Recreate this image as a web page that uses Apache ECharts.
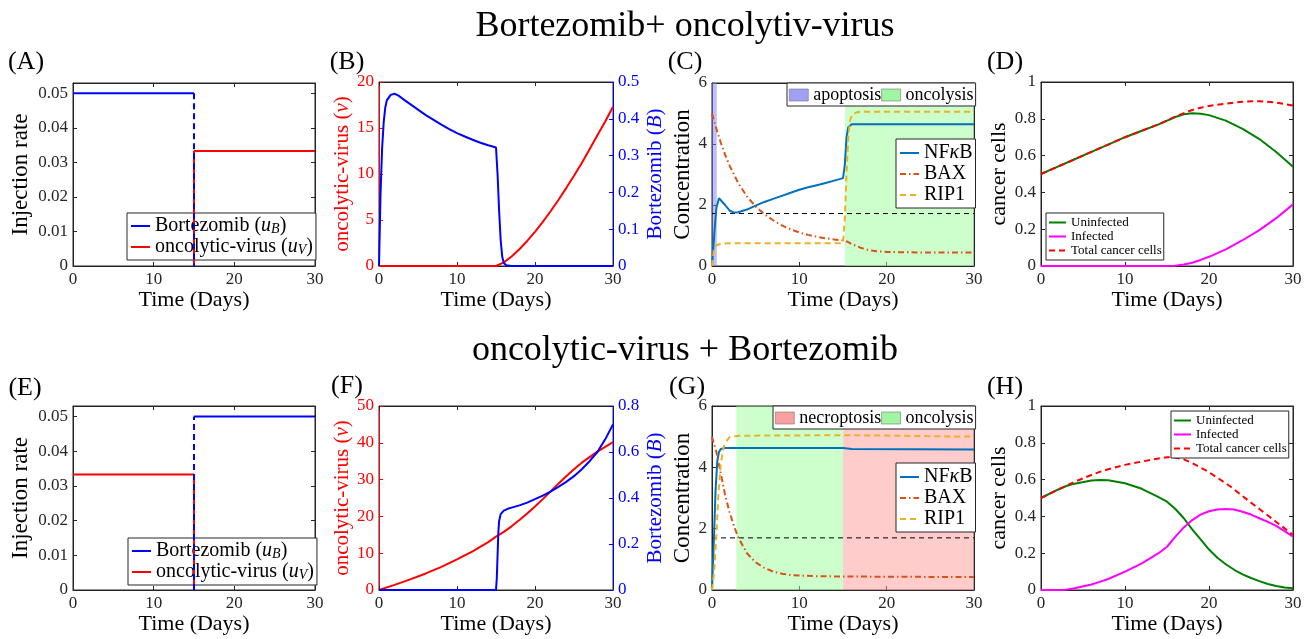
<!DOCTYPE html>
<html><head><meta charset="utf-8">
<script src="https://cdn.jsdelivr.net/npm/echarts@6/dist/echarts.min.js"></script>
<style>html,body{margin:0;padding:0;background:#fff}#c{width:1314px;height:639px}</style>
</head><body><div id="c"></div>
<script>
// ---------------- DATA ----------------
const titleTop = 'Bortezomib+ oncolytiv-virus';
const titleBottom = 'oncolytic-virus + Bortezomib';
const panelLabels = ['(A)','(B)','(C)','(D)','(E)','(F)','(G)','(H)'];

// Panel A: injection rates
const tA_B = [0, 15];        const uA_B = [0.05, 0.05];
const tA_Bdrop = [15, 15];   const uA_Bdrop = [0.05, 0];
const tA_V = [15, 30];       const uA_V = [0.0333, 0.0333];
const tA_Vrise = [15, 15];   const uA_Vrise = [0, 0.0333];

// Panel E: injection rates
const tE_V = [0, 15];        const uE_V = [0.0333, 0.0333];
const tE_Vdrop = [15, 15];   const uE_Vdrop = [0.0333, 0];
const tE_Brise = [15, 15];   const uE_Brise = [0, 0.05];
const tE_B = [15, 30];       const uE_B = [0.05, 0.05];

// Panel B
const tB_v = [0, 15, 16, 17, 18, 19, 20, 21, 22, 23, 24, 25, 26, 27, 28, 29, 30];
const vB   = [0, 0, 0.39, 1.03, 1.82, 2.72, 3.72, 4.79, 5.95, 7.18, 8.47, 9.81, 11.2, 12.7, 14.2, 15.7, 17.3];
const tB_B = [0, 0.2, 0.4, 0.6, 0.8, 1.0, 1.5, 2, 2.5, 3, 4, 5, 6, 7, 8, 9, 10, 11, 12, 13, 14, 15, 15.2, 15.4, 15.6, 15.8, 16, 16.3, 17, 30];
const bB   = [0, 0.2, 0.32, 0.39, 0.43, 0.45, 0.465, 0.468, 0.463, 0.455, 0.44, 0.425, 0.41, 0.397, 0.384, 0.372, 0.361, 0.352, 0.343, 0.335, 0.328, 0.322, 0.25, 0.15, 0.07, 0.025, 0.008, 0.002, 0, 0];

// Panel C
const tC_N = [0, 0.3, 0.5, 0.8, 1.0, 1.5, 2, 2.5, 3, 4, 5, 6, 7, 8, 9, 10, 11, 12, 13, 14, 15, 15.2, 15.4, 15.6, 16, 30];
const nC   = [0, 1.2, 1.9, 2.22, 2.22, 2.0, 1.82, 1.75, 1.76, 1.85, 1.98, 2.1, 2.2, 2.3, 2.4, 2.5, 2.58, 2.65, 2.72, 2.8, 2.88, 3.3, 4.2, 4.55, 4.65, 4.65];
const tC_X = [0, 0.5, 1, 1.5, 2, 3, 4, 5, 6, 7, 8, 9, 10, 11, 12, 13, 14, 15, 15.5, 16, 17, 18, 19, 20, 22, 25, 30];
const xC   = [5.0, 4.5, 4.05, 3.65, 3.3, 2.72, 2.28, 1.95, 1.7, 1.5, 1.33, 1.2, 1.1, 1.02, 0.96, 0.91, 0.87, 0.84, 0.8, 0.72, 0.6, 0.52, 0.48, 0.46, 0.45, 0.44, 0.44];
const tC_R = [0, 0.2, 0.5, 1, 2, 15, 15.2, 15.4, 15.6, 15.8, 16, 16.5, 17, 30];
const rC   = [0, 0.5, 0.68, 0.73, 0.75, 0.75, 1.5, 3.0, 4.2, 4.75, 4.95, 5.03, 5.06, 5.06];
const thrC = 1.72;
const apoptosisC = [0, 0.55];
const oncolysisC = [15.23, 30];

// Panel D
const tD = [0, 2, 4, 6, 8, 10, 12, 14, 16, 17, 18, 19, 20, 22, 24, 26, 28, 30];
const uninfD = [0.5, 0.54, 0.58, 0.62, 0.66, 0.70, 0.735, 0.77, 0.81, 0.825, 0.83, 0.828, 0.82, 0.79, 0.745, 0.69, 0.62, 0.54];
const infD   = [0, 0, 0, 0, 0, 0, 0, 0, 0.002, 0.008, 0.018, 0.033, 0.05, 0.09, 0.14, 0.195, 0.26, 0.335];
const totD   = [0.5, 0.54, 0.58, 0.62, 0.66, 0.70, 0.735, 0.77, 0.812, 0.83, 0.848, 0.86, 0.87, 0.882, 0.893, 0.896, 0.888, 0.872];

// Panel F
const tF_v = [0, 2, 4, 6, 8, 10, 12, 14, 15, 16, 17, 18, 19, 20, 21, 22, 23, 24, 25, 26, 27, 28, 29, 30];
const vF   = [0, 1.4, 2.9, 4.5, 6.3, 8.3, 10.5, 13.0, 14.5, 15.8, 17.3, 19.0, 20.8, 22.7, 24.7, 26.8, 28.9, 30.9, 32.8, 34.6, 36.1, 37.6, 38.9, 40.2];
const tF_B = [0, 15, 15.1, 15.2, 15.3, 15.4, 15.6, 16, 16.5, 17, 18, 19, 20, 21, 22, 23, 24, 25, 26, 27, 28, 29, 30];
const bF   = [0, 0, 0.05, 0.15, 0.25, 0.3, 0.33, 0.345, 0.353, 0.358, 0.368, 0.38, 0.395, 0.41, 0.428, 0.448, 0.47, 0.495, 0.525, 0.56, 0.6, 0.655, 0.72];

// Panel G
const tG_N = [0, 0.2, 0.4, 0.6, 0.8, 1.0, 1.5, 15, 16, 30];
const nG   = [0, 1.5, 3.2, 4.2, 4.5, 4.6, 4.63, 4.63, 4.6, 4.58];
const tG_X = [0, 0.5, 1, 1.5, 2, 2.5, 3, 4, 5, 6, 7, 8, 9, 10, 12, 15, 30];
const xG   = [5.0, 4.5, 3.8, 3.1, 2.55, 2.1, 1.72, 1.2, 0.9, 0.72, 0.6, 0.53, 0.49, 0.47, 0.45, 0.44, 0.42];
const tG_R = [0, 0.25, 0.5, 0.75, 1, 1.25, 1.5, 2, 3, 15, 30];
const rG   = [0, 0.6, 1.8, 3.2, 4.1, 4.55, 4.8, 4.98, 5.03, 5.05, 5.0];
const thrG = 1.7;
const oncolysisG = [2.78, 15];
const necroptosisG = [15, 30];

// Panel H
const tH = [0, 2, 3, 4, 6, 7, 8, 10, 12, 14, 15, 16, 17, 18, 19, 20, 21, 22, 23, 24, 25, 26, 27, 28, 29, 30];
const uninfH = [0.5, 0.545, 0.565, 0.578, 0.595, 0.598, 0.596, 0.58, 0.55, 0.505, 0.48, 0.44, 0.39, 0.33, 0.275, 0.22, 0.175, 0.14, 0.11, 0.085, 0.065, 0.048, 0.033, 0.022, 0.014, 0.009];
const infH   = [0, 0, 0.002, 0.01, 0.03, 0.044, 0.06, 0.1, 0.145, 0.2, 0.235, 0.29, 0.34, 0.38, 0.41, 0.428, 0.437, 0.44, 0.437, 0.425, 0.41, 0.39, 0.37, 0.348, 0.32, 0.29];
const totH   = [0.5, 0.545, 0.567, 0.588, 0.625, 0.642, 0.656, 0.68, 0.698, 0.715, 0.722, 0.72, 0.71, 0.69, 0.665, 0.64, 0.61, 0.58, 0.547, 0.51, 0.475, 0.44, 0.405, 0.37, 0.335, 0.3];

// ---------------- BUILD ----------------
const FONT = "'Liberation Serif', 'Times New Roman', serif";
const AX = '#262626';
const C_NF = '#0072BD', C_BAX = '#D95319', C_RIP = '#EDB120';
const zip = (t, y) => t.map((v, i) => [v, y[i]]);

const grids = [
  {left: 73,  top: 83,  width: 242, height: 183},
  {left: 379, top: 82,  width: 234, height: 184},
  {left: 712, top: 83,  width: 262, height: 183},
  {left: 1041,top: 82,  width: 252, height: 184},
  {left: 73,  top: 406, width: 242, height: 184},
  {left: 379, top: 406, width: 234, height: 184},
  {left: 712, top: 406, width: 262, height: 184},
  {left: 1041,top: 406, width: 252, height: 184}
].map(g => Object.assign({show: true, borderColor: AX, borderWidth: 1, backgroundColor: 'transparent', containLabel: false}, g));

const rich = (size, color) => ({
  n: {fontFamily: FONT, fontSize: size, color: color},
  i: {fontFamily: FONT, fontSize: size, color: color, fontStyle: 'italic'},
  s: {fontFamily: FONT, fontSize: Math.round(size * 0.68), color: color, fontStyle: 'italic', verticalAlign: 'bottom'}
});

const xAxes = [], yAxes = [];
grids.forEach((g, p) => {
  xAxes.push({type: 'value', gridIndex: p, min: 0, max: 30, interval: 10, position: 'bottom',
    name: 'Time (Days)', nameLocation: 'middle', nameGap: p < 4 ? 17 : 21,
    nameTextStyle: {fontFamily: FONT, fontSize: 22, color: '#000'},
    axisLine: {show: true, onZero: false, lineStyle: {color: AX}},
    axisTick: {inside: true, length: 4, lineStyle: {color: AX}},
    axisLabel: {fontFamily: FONT, fontSize: 17, color: AX, margin: 5},
    splitLine: {show: false}});
  xAxes.push({type: 'value', gridIndex: p, min: 0, max: 30, interval: 10, position: 'top',
    axisLine: {show: true, onZero: false, lineStyle: {color: AX}},
    axisTick: {inside: true, length: 4, lineStyle: {color: AX}},
    axisLabel: {show: false}, splitLine: {show: false}});
});

function yLeft(p, max, interval, name, nameGap, color, size, nameRich) {
  return {type: 'value', gridIndex: p, min: 0, max: max, interval: interval, position: 'left',
    name: name, nameLocation: 'middle', nameGap: nameGap,
    nameTextStyle: {fontFamily: FONT, fontSize: size, color: color === AX ? '#000' : color, rich: nameRich},
    axisLine: {show: true, onZero: false, lineStyle: {color: color}},
    axisTick: {inside: true, length: 4, lineStyle: {color: color}},
    axisLabel: {fontFamily: FONT, fontSize: 17, color: color, margin: 5, showMaxLabel: true},
    splitLine: {show: false}};
}
function yRightMirror(p, max, interval) {
  return {type: 'value', gridIndex: p, min: 0, max: max, interval: interval, position: 'right',
    axisLine: {show: true, onZero: false, lineStyle: {color: AX}},
    axisTick: {inside: true, length: 4, lineStyle: {color: AX}},
    axisLabel: {show: false}, splitLine: {show: false}};
}
function yRightReal(p, max, interval, name, nameGap, color) {
  return {type: 'value', gridIndex: p, min: 0, max: max, interval: interval, position: 'right',
    name: name, nameLocation: 'middle', nameGap: nameGap,
    nameTextStyle: {fontFamily: FONT, fontSize: 21, color: color, rich: rich(21, color)},
    axisLine: {show: true, onZero: false, lineStyle: {color: color}},
    axisTick: {inside: true, length: 4, lineStyle: {color: color}},
    axisLabel: {fontFamily: FONT, fontSize: 17, color: color, margin: 5},
    splitLine: {show: false}};
}
const RED = '#ff0000', BLUE = '#0000ff';
const vName = '{n|oncolytic-virus (}{i|v}{n|)}';
const bName = '{n|Bortezomib (}{i|B}{n|)}';
const hideMax = a => { a.axisLabel.showMaxLabel = false; return a; };
// A
yAxes.push(hideMax(yLeft(0, 0.053, 0.01, 'Injection rate', 41, AX, 23)), yRightMirror(0, 0.053, 0.01));
// B
yAxes.push(yLeft(1, 20, 5, vName, 26, RED, 21, rich(21, RED)), yRightReal(1, 0.5, 0.1, bName, 32, BLUE));
// C
yAxes.push(yLeft(2, 6, 2, 'Concentration', 18, AX, 23), yRightMirror(2, 6, 2));
// D
yAxes.push(yLeft(3, 1, 0.2, 'cancer cells', 31, AX, 22), yRightMirror(3, 1, 0.2));
// E
yAxes.push(hideMax(yLeft(4, 0.053, 0.01, 'Injection rate', 41, AX, 23)), yRightMirror(4, 0.053, 0.01));
// F
yAxes.push(yLeft(5, 50, 10, vName, 26, RED, 21, rich(21, RED)), yRightReal(5, 0.8, 0.2, bName, 32, BLUE));
// G
yAxes.push(yLeft(6, 6, 2, 'Concentration', 18, AX, 23), yRightMirror(6, 6, 2));
// H
yAxes.push(yLeft(7, 1, 0.2, 'cancer cells', 31, AX, 22), yRightMirror(7, 1, 0.2));

function line(name, p, right, data, color, width, type, z) {
  return {type: 'line', name: name, xAxisIndex: 2 * p, yAxisIndex: 2 * p + (right ? 1 : 0),
    data: data, symbol: 'none', smooth: false, z: z || 2, silent: true,
    lineStyle: {color: color, width: width, type: type || 'solid'}, itemStyle: {color: color}};
}
function patch(name, p, range, color) {
  return {type: 'line', name: name, xAxisIndex: 2 * p, yAxisIndex: 2 * p, data: [], symbol: 'none',
    itemStyle: {color: color}, lineStyle: {width: 0},
    markArea: {silent: true, itemStyle: {color: color}, data: [[{xAxis: range[0]}, {xAxis: range[1]}]]}};
}
const DASH = [6, 4], DASHDOT = [6, 3, 1.5, 3], THR = [5, 4];
const GREEN_A = 'rgba(153,255,153,0.5)', BLUE_A = 'rgba(128,128,255,0.5)', PINK_A = 'rgba(255,153,153,0.5)';

const series = [
  // A
  line('A_uV', 0, false, zip(tA_V, uA_V), RED, 2),
  line('A_uVr', 0, false, zip(tA_Vrise, uA_Vrise), RED, 2),
  line('A_uB', 0, false, zip(tA_B, uA_B), BLUE, 2),
  line('A_uBd', 0, false, zip(tA_Bdrop, uA_Bdrop), BLUE, 2, DASH, 3),
  // B
  line('B_v', 1, false, zip(tB_v, vB), RED, 2),
  line('B_B', 1, true, zip(tB_B, bB), BLUE, 2),
  // C
  patch('apoptosis', 2, apoptosisC, BLUE_A),
  patch('oncolysis', 2, oncolysisC, GREEN_A),
  line('C_thr', 2, false, zip([0, 30], [thrC, thrC]), '#000', 1, THR),
  line('C_NF', 2, false, zip(tC_N, nC), C_NF, 2),
  line('C_BAX', 2, false, zip(tC_X, xC), C_BAX, 2, DASHDOT),
  line('C_RIP', 2, false, zip(tC_R, rC), C_RIP, 2, DASH),
  // D
  line('D_un', 3, false, zip(tD, uninfD), '#008000', 2),
  line('D_in', 3, false, zip(tD, infD), '#ff00ff', 2),
  line('D_tot', 3, false, zip(tD, totD), RED, 2, DASH),
  // E
  line('E_uV', 4, false, zip(tE_V, uE_V), RED, 2),
  line('E_uVd', 4, false, zip(tE_Vdrop, uE_Vdrop), RED, 2),
  line('E_uB', 4, false, zip(tE_B, uE_B), BLUE, 2),
  line('E_uBr', 4, false, zip(tE_Brise, uE_Brise), BLUE, 2, DASH, 3),
  // F
  line('F_v', 5, false, zip(tF_v, vF), RED, 2),
  line('F_B', 5, true, zip(tF_B, bF), BLUE, 2),
  // G
  patch('necroptosis', 6, necroptosisG, PINK_A),
  patch('oncolysisG', 6, oncolysisG, GREEN_A),
  line('G_thr', 6, false, zip([0, 30], [thrG, thrG]), '#000', 1, THR),
  line('G_NF', 6, false, zip(tG_N, nG), C_NF, 2),
  line('G_BAX', 6, false, zip(tG_X, xG), C_BAX, 2, DASHDOT),
  line('G_RIP', 6, false, zip(tG_R, rG), C_RIP, 2, DASH),
  // H
  line('H_un', 7, false, zip(tH, uninfH), '#008000', 2),
  line('H_in', 7, false, zip(tH, infH), '#ff00ff', 2),
  line('H_tot', 7, false, zip(tH, totH), RED, 2, DASH)
];

const labelMap = {
  A_uB: '{n|Bortezomib (}{i|u}{s|B}{n|)}', A_uV: '{n|oncolytic-virus (}{i|u}{s|V}{n|)}',
  E_uB: '{n|Bortezomib (}{i|u}{s|B}{n|)}', E_uV: '{n|oncolytic-virus (}{i|u}{s|V}{n|)}',
  C_NF: '{n|NF}{i|κ}{n|B}', C_BAX: '{n|BAX}', C_RIP: '{n|RIP1}',
  G_NF: '{n|NF}{i|κ}{n|B}', G_BAX: '{n|BAX}', G_RIP: '{n|RIP1}',
  D_un: '{n|Uninfected}', D_in: '{n|Infected}', D_tot: '{n|Total cancer cells}',
  H_un: '{n|Uninfected}', H_in: '{n|Infected}', H_tot: '{n|Total cancer cells}',
  apoptosis: '{n|apoptosis}', oncolysis: '{n|oncolysis}', necroptosis: '{n|necroptosis}', oncolysisG: '{n|oncolysis}'
};
function legend(names, left, top, size, opts) {
  return Object.assign({
    data: names, left: left, top: top, orient: 'vertical', selectedMode: false,
    itemWidth: 20, itemHeight: 12, itemGap: 1, padding: [3, 5, 3, 3],
    borderColor: AX, borderWidth: 1, backgroundColor: '#fff', z: 6,
    itemStyle: {opacity: 0},
    formatter: n => labelMap[n],
    textStyle: {fontFamily: FONT, fontSize: size, color: '#000', rich: rich(size, '#000')}
  }, opts || {});
}
const patchItem = (n, c) => ({name: n, icon: 'rect', itemStyle: {color: c, borderColor: '#777', borderWidth: 0.6, opacity: 1}});
const GREEN_L = '#a0f5a0', BLUE_L = '#a0a0f5', PINK_L = '#f8a0a0';
const patchOpts = {orient: 'horizontal', itemGap: 0, itemHeight: 12, itemWidth: 19, padding: [3, 2, 2, 2]};

const legends = [
  legend(['A_uB', 'A_uV'], 127, 213, 20, {z: 1, itemWidth: 19, padding: [3, 3, 3, 3]}),
  legend(['E_uB', 'E_uV'], 128, 538, 20, {z: 1, itemWidth: 19, padding: [3, 3, 3, 3]}),
  legend([patchItem('apoptosis', BLUE_L), patchItem('oncolysis', GREEN_L)], 787, 83, 18, patchOpts),
  legend(['C_NF', 'C_BAX', 'C_RIP'], 896, 139, 20, {itemWidth: 19, padding: [4, 3, 3, 3]}),
  legend(['D_un', 'D_in', 'D_tot'], 1046, 213, 13, {itemGap: 1, itemHeight: 10, itemWidth: 17, padding: [3, 2, 3, 2]}),
  legend([patchItem('necroptosis', PINK_L), patchItem('oncolysisG', GREEN_L)], 773, 406, 18, patchOpts),
  legend(['G_NF', 'G_BAX', 'G_RIP'], 896, 463, 20, {itemWidth: 19, padding: [4, 3, 3, 3]}),
  legend(['H_un', 'H_in', 'H_tot'], 1171, 411, 13, {itemGap: 1, itemHeight: 10, itemWidth: 17, padding: [3, 2, 3, 2]})
];

const labelPos = [[26, 62], [347, 62], [685, 62], [1005, 62], [25, 388], [347, 386], [687, 387], [1005, 387]];
const graphics = [
  {type: 'text', x: 685, y: 27, style: {text: titleTop, font: '36px ' + FONT, fill: '#000', textAlign: 'center', textVerticalAlign: 'middle'}},
  {type: 'text', x: 685, y: 351, style: {text: titleBottom, font: '36px ' + FONT, fill: '#000', textAlign: 'center', textVerticalAlign: 'middle'}}
].concat(panelLabels.map((t, i) => ({type: 'text', x: labelPos[i][0], y: labelPos[i][1],
  style: {text: t, font: '26px ' + FONT, fill: '#000', textAlign: 'center', textVerticalAlign: 'middle'}})));

const chart = echarts.init(document.getElementById('c'), null, {renderer: 'canvas'});
chart.setOption({
  animation: false, backgroundColor: '#fff',
  grid: grids, xAxis: xAxes, yAxis: yAxes, series: series, legend: legends, graphic: graphics
});
</script></body></html>
